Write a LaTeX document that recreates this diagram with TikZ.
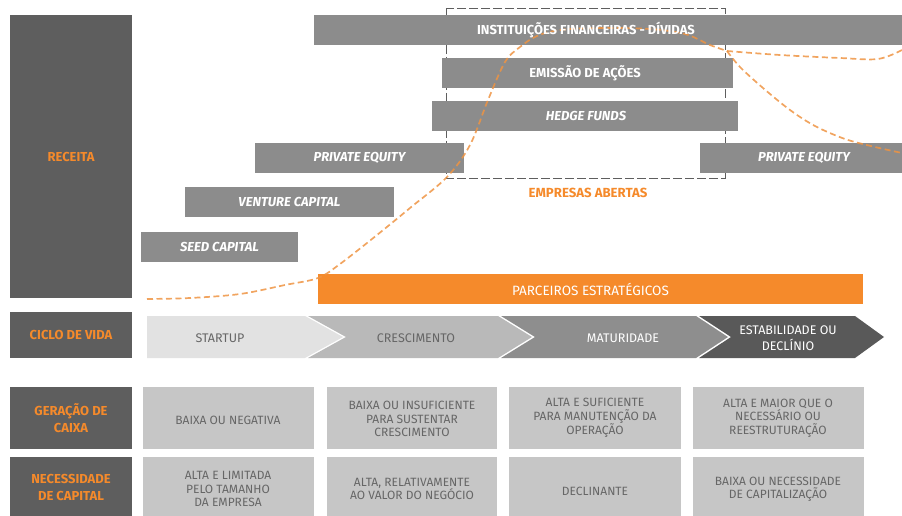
\documentclass[tikz,border=0pt]{standalone}
\usepackage{fontspec}
\setmainfont{Fira Sans}
\definecolor{dark}{HTML}{5E5E5E}
\definecolor{bar}{HTML}{8C8C8C}
\definecolor{orng}{HTML}{F58A2B}
\definecolor{cell}{HTML}{C6C6C6}
\definecolor{celltext}{HTML}{666666}
\definecolor{curve}{HTML}{EE9443}
\definecolor{chA}{HTML}{E2E2E2}
\definecolor{chB}{HTML}{B9B9B9}
\definecolor{chC}{HTML}{8E8E8E}
\definecolor{chD}{HTML}{595959}
\begin{document}
\begin{tikzpicture}[x=1pt,y=-1pt,
  rect/.style={inner sep=0pt, outer sep=0pt, anchor=north west, draw=none},
  hdr/.style={text=orng, font=\bfseries\fontsize{13}{17}\selectfont, align=center},
  bartxt/.style={text=white, font=\bfseries\fontsize{13}{15}\selectfont},
  baritl/.style={text=white, font=\bfseries\itshape\fontsize{13}{15}\selectfont},
  celltxt/.style={text=celltext, font=\fontsize{12}{13.5}\selectfont, align=center},
  chtxt/.style={font=\fontsize{12.5}{16}\selectfont, align=center},
  curveline/.style={draw=curve, line width=1.7pt, dash pattern=on 6pt off 3.5pt, opacity=0.85}
]
\useasboundingbox (0,0) rectangle (902,516);

% dashed box (empresas abertas)
\draw[draw=dark, line width=1pt, dash pattern=on 9pt off 3pt] (446,9) rectangle (725,178);
\node[text=orng, font=\bfseries\fontsize{13.2}{15}\selectfont] (abertas) at (588,193) {EMPRESAS ABERTAS};

% left header column
\node[rect, fill=dark, minimum width=122, minimum height=283] (receita) at (10,15) {};
\node[hdr] at (receita.center) {RECEITA};
\node[rect, fill=dark, minimum width=122, minimum height=46] (ciclo) at (10,312) {};
\node[hdr] at (ciclo.center) {CICLO DE VIDA};
\node[rect, fill=dark, minimum width=122, minimum height=62] (geracao) at (10,387) {};
\node[hdr] at (geracao.center) {GERAÇÃO DE\\CAIXA};
\node[rect, fill=dark, minimum width=122, minimum height=60] (necess) at (10,457) {};
\node[hdr] at (71,487) {NECESSIDADE\\DE CAPITAL};

% financing bars
\node[rect, fill=bar, minimum width=588, minimum height=30] (inst) at (314,15) {};
\node[rect, fill=bar, minimum width=291, minimum height=30] (emis) at (442,58) {};
\node[rect, fill=bar, minimum width=306, minimum height=30] (hedge) at (432,101) {};
\node[rect, fill=bar, minimum width=209, minimum height=30] (pe1) at (255,143) {};
\node[rect, fill=bar, minimum width=202, minimum height=30] (pe2) at (700,143) {};
\node[rect, fill=bar, minimum width=209, minimum height=30] (vc) at (185,187) {};
\node[rect, fill=bar, minimum width=157, minimum height=30] (seed) at (141,232) {};
\node[rect, fill=orng, minimum width=545, minimum height=30] (parc) at (318,274) {};

% curves
\draw[curveline] plot[smooth, tension=0.55] coordinates {
  (147,299) (190,298) (240,294) (285,285) (318,278) (340,264) (377,235)
  (410,208) (447,177) (470,145) (488,100) (505,62) (520,47) (537,36)
  (560,30) (600,28) (650,29) (685,34) (710,45) (727,51)};
\draw[curveline] plot[smooth, tension=0.55] coordinates {
  (727,51) (780,55) (840,58) (878,59) (902,50)};
\draw[curveline] plot[smooth, tension=0.55] coordinates {
  (727,51) (740,67) (763,88) (790,110) (815,126) (845,139) (875,147) (902,153)};

% bar labels (on top of the curves)
\node[bartxt] (instT) at (586,30) {INSTITUIÇÕES FINANCEIRAS - DÍVIDAS};
\node[bartxt] (emisT) at (585,73) {EMISSÃO DE AÇÕES};
\node[baritl] (hedgeT) at (586,116) {HEDGE FUNDS};
\node[baritl] (pe1T) at (pe1.center) {PRIVATE EQUITY};
\node[baritl] (pe2T) at (804,158) {PRIVATE EQUITY};
\node[baritl] (vcT) at (vc.center) {VENTURE CAPITAL};
\node[baritl] (seedT) at (seed.center) {SEED CAPITAL};
\node[text=white, font=\fontsize{13.5}{15}\selectfont] (parcT) at (parc.center) {PARCEIROS ESTRATÉGICOS};

% life-cycle chevrons
\fill[chA] (147,316) -- (305,316) -- (343,337) -- (305,358) -- (147,358) -- cycle;
\fill[chB] (308,316) -- (498,316) -- (532,337) -- (498,358) -- (308,358) -- (346,337) -- cycle;
\fill[chC] (501,316) -- (696,316) -- (728,337) -- (696,358) -- (501,358) -- (535,337) -- cycle;
\fill[chD] (699,316) -- (855,316) -- (884,337) -- (855,358) -- (699,358) -- (731,337) -- cycle;
\node[chtxt, text=celltext] (startup) at (220,338) {STARTUP};
\node[chtxt, text=celltext] (cresc) at (416,338) {CRESCIMENTO};
\node[chtxt, text=white] (matur) at (623,338) {MATURIDADE};
\node[chtxt, text=white] (estab) at (788,338) {ESTABILIDADE OU\\DECLÍNIO};

% table cells
\node[rect, fill=cell, minimum width=171, minimum height=62] (g1) at (143,387) {};
\node[rect, fill=cell, minimum width=170, minimum height=62] (g2) at (327,387) {};
\node[rect, fill=cell, minimum width=172, minimum height=62] (g3) at (509,387) {};
\node[rect, fill=cell, minimum width=171, minimum height=62] (g4) at (693,387) {};
\node[rect, fill=cell, minimum width=171, minimum height=60] (n1) at (143,457) {};
\node[rect, fill=cell, minimum width=170, minimum height=60] (n2) at (327,457) {};
\node[rect, fill=cell, minimum width=172, minimum height=60] (n3) at (509,457) {};
\node[rect, fill=cell, minimum width=171, minimum height=60] (n4) at (693,457) {};

\node[celltxt] at (228,420) {BAIXA OU NEGATIVA};
\node[celltxt] at (412,419) {BAIXA OU INSUFICIENTE\\PARA SUSTENTAR\\CRESCIMENTO};
\node[celltxt] at (595,418) {ALTA E SUFICIENTE\\PARA MANUTENÇÃO DA\\OPERAÇÃO};
\node[celltxt] at (778,418) {ALTA E MAIOR QUE O\\NECESSÁRIO OU\\REESTRUTURAÇÃO};
\node[celltxt] at (228,489) {ALTA E LIMITADA\\PELO TAMANHO\\DA EMPRESA};
\node[celltxt] at (412,489) {ALTA, RELATIVAMENTE\\AO VALOR DO NEGÓCIO};
\node[celltxt] at (595,491) {DECLINANTE};
\node[celltxt] at (778,489) {BAIXA OU NECESSIDADE\\DE CAPITALIZAÇÃO};
\end{tikzpicture}
\end{document}
